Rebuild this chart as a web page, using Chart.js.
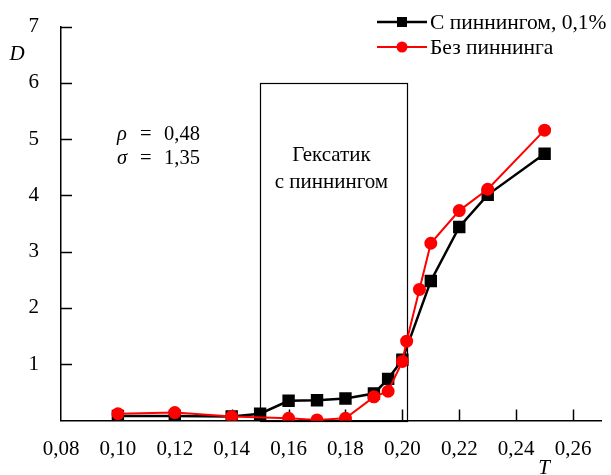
<!DOCTYPE html>
<html><head><meta charset="utf-8">
<script src="https://cdn.jsdelivr.net/npm/chart.js@4/dist/chart.umd.min.js"></script>
<style>html,body{margin:0;padding:0;background:#fff}#wrap{width:611px;height:475px}
.pre{font-family:"Liberation Serif";position:absolute;left:-999px}</style>
</head><body><span class="pre">a</span><span class="pre" style="font-style:italic">a</span>
<div id="wrap"><canvas id="c" width="611" height="475"></canvas></div>
<script>
const T_pin = [0.10,0.12,0.14,0.15,0.16,0.17,0.18,0.19,0.195,0.20,0.21,0.22,0.23,0.25];
const D_pin = [0.08,0.08,0.07,0.12,0.35,0.36,0.39,0.48,0.74,1.08,2.48,3.44,4.01,4.74];
const T_nopin = [0.10,0.12,0.14,0.16,0.17,0.18,0.19,0.195,0.20,0.2015,0.206,0.21,0.22,0.23,0.25];
const D_nopin = [0.12,0.14,0.07,0.04,0.01,0.04,0.42,0.52,1.05,1.41,2.33,3.15,3.73,4.11,5.16];
const seriesNames = ['С пиннингом, 0,1%','Без пиннинга'];
const xTicks = [0.08,0.10,0.12,0.14,0.16,0.18,0.20,0.22,0.24,0.26];
const yTicks = [0,1,2,3,4,5,6,7];
const hexRegion = {x0:0.15, x1:0.2015, y0:0, y1:6};
const hexText = ['Гексатик','с пиннингом'];
const params = [['ρ','0,48'],['σ','1,35']];

const FONT = '"Liberation Serif", serif';
const FS = 21;
const toPts = (xs, ys) => xs.map((x,i)=>({x, y: ys[i]}));

const extras = {
  id:'extras',
  beforeDatasetsDraw(chart){
    const {ctx, scales:{x,y}} = chart;
    ctx.save();
    ctx.strokeStyle='#000'; ctx.lineWidth=1.5;
    const L = x.getPixelForValue(0.08), B = y.getPixelForValue(0);
    yTicks.forEach(v=>{ if(v===0) return; const py=Math.round(y.getPixelForValue(v))+0.5;
      ctx.beginPath(); ctx.moveTo(L,py); ctx.lineTo(L+11,py); ctx.stroke(); });
    xTicks.forEach(v=>{ if(v===0.08) return; const px=Math.round(x.getPixelForValue(v))+0.5;
      ctx.beginPath(); ctx.moveTo(px,B); ctx.lineTo(px,B-11); ctx.stroke(); });
    const rx0=x.getPixelForValue(hexRegion.x0), rx1=x.getPixelForValue(hexRegion.x1);
    const ry0=y.getPixelForValue(hexRegion.y0), ry1=y.getPixelForValue(hexRegion.y1);
    ctx.lineWidth=1.2;
    ctx.strokeRect(Math.round(rx0)+0.5, Math.round(ry1)+0.5, Math.round(rx1-rx0), Math.round(ry0-ry1));
    ctx.fillStyle='#000';
    ctx.font=FS+'px '+FONT; ctx.textAlign='center'; ctx.textBaseline='alphabetic';
    const cx=(rx0+rx1)/2 - 2;
    ctx.fillText(hexText[0], cx, 161);
    ctx.fillText(hexText[1], cx, 188);
    ctx.textAlign='left';
    params.forEach((p,i)=>{
      const by = 140 + 24*i;
      ctx.font='italic 20.5px '+FONT; ctx.fillText(p[0],117,by);
      ctx.font='20.5px '+FONT; ctx.fillText('=',140,by); ctx.fillText(p[1],164,by);
    });
    ctx.font='italic '+FS+'px '+FONT; ctx.textAlign='center'; ctx.textBaseline='middle';
    ctx.fillText('D', 17, 54);
    ctx.fillText('T', 544, 468);
    ctx.restore();
  },
  afterDraw(chart){
    const {ctx} = chart;
    ctx.save();
    const rows=[{y:22,c:'#000',s:'rect'},{y:47,c:'#ff0000',s:'circle'}];
    rows.forEach((r,i)=>{
      ctx.strokeStyle=r.c; ctx.fillStyle=r.c; ctx.lineWidth=i===0?2.5:2;
      ctx.beginPath(); ctx.moveTo(377,r.y); ctx.lineTo(427,r.y); ctx.stroke();
      if(r.s==='rect'){ ctx.fillRect(397,r.y-5,10,10);} else { ctx.beginPath(); ctx.arc(402,r.y,5.5,0,Math.PI*2); ctx.fill(); }
      ctx.fillStyle='#000'; ctx.font='21.5px '+FONT; ctx.textAlign='left'; ctx.textBaseline='middle';
      ctx.fillText(seriesNames[i], 430, r.y+1);
    });
    ctx.restore();
  }
};

function build(){
new Chart(document.getElementById('c'), {
  type:'line',
  data:{datasets:[
    {label:seriesNames[1], data:toPts(T_nopin,D_nopin), borderColor:'#ff0000', backgroundColor:'#ff0000', borderWidth:2,
     pointStyle:'circle', pointRadius:5.5, pointHoverRadius:5.5, order:0},
    {label:seriesNames[0], data:toPts(T_pin,D_pin), borderColor:'#000', backgroundColor:'#000', borderWidth:2.5,
     pointStyle:'rect', pointRadius:7, pointHoverRadius:7, order:1}
  ]},
  options:{
    responsive:false, animation:false, devicePixelRatio:1,
    layout:{padding:{left:0,right:8.5,top:25,bottom:0}},
    plugins:{legend:{display:false}, tooltip:{enabled:false}},
    scales:{
      x:{type:'linear', min:0.08, max:0.27,
        afterBuildTicks:s=>{ s.ticks = xTicks.map(v=>({value:v})); },
        afterFit:s=>{ s.height = 54.5; },
        grid:{display:false}, border:{display:true,color:'#000',width:1.5},
        ticks:{color:'#000', font:{family:'Liberation Serif',size:FS}, padding:8, maxRotation:0, autoSkip:false,
          callback:v=>v.toFixed(2).replace('.',',')}},
      y:{type:'linear', min:0, max:7,
        afterBuildTicks:s=>{ s.ticks = yTicks.map(v=>({value:v})); },
        afterFit:s=>{ s.width = 61; },
        grid:{display:false}, border:{display:true,color:'#000',width:1.5},
        ticks:{color:'#000', font:{family:'Liberation Serif',size:FS}, padding:14,
          callback:v=> v===0 ? '' : String(v)}}
    }
  },
  plugins:[extras]
});
}
Promise.all([document.fonts.load('20px "Liberation Serif"'), document.fonts.load('italic 20px "Liberation Serif"')]).then(build, build);
</script></body></html>
